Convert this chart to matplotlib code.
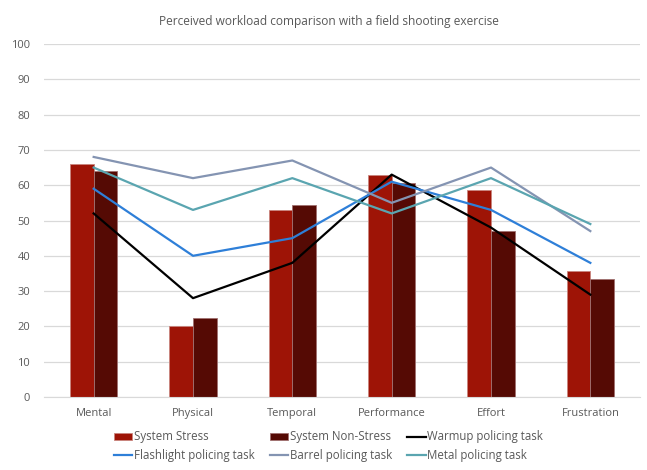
import numpy as np
import matplotlib.pyplot as plt

# Data
categories = ['Mental', 'Physical', 'Temporal', 'Performance', 'Effort', 'Frustration']
stress = [66, 20, 53, 63, 58.7, 35.6]
non_stress = [64, 22.5, 54.4, 60.5, 47, 33.4]
warmup = [52, 28, 38, 63, 48, 29]
flashlight = [59, 40, 45, 61, 53, 38]
barrel = [68, 62, 67, 55, 65, 47]
metal = [65, 53, 62, 52, 62, 49]

plt.rcParams['font.family'] = ['Open Sans', 'DejaVu Sans']
text_col = '#595959'

fig = plt.figure(figsize=(6.47, 4.70), dpi=100)
ax = fig.add_axes([44/647, 1-397/470, 596/647, (397-44)/470])

x = np.arange(len(categories))
w = 0.237
b1 = ax.bar(x - w/2, stress, w, color='#9E1406', edgecolor='#C9857E', linewidth=0.6, label='System Stress', zorder=2)
b2 = ax.bar(x + w/2, non_stress, w, color='#550A04', edgecolor='#A07070', linewidth=0.6, label='System Non-Stress', zorder=2)
l1, = ax.plot(x, warmup, color='black', lw=1.6, label='Warmup policing task', zorder=3)
l2, = ax.plot(x, flashlight, color='#2E7FD8', lw=1.6, label='Flashlight policing task', zorder=3)
l3, = ax.plot(x, barrel, color='#8494B2', lw=1.6, label='Barrel policing task', zorder=3)
l4, = ax.plot(x, metal, color='#5AA5B0', lw=1.6, label='Metal policing task', zorder=3)

ax.set_xlim(-0.5, len(categories) - 0.5)
ax.set_ylim(0, 100)
ax.set_yticks(range(0, 101, 10))
ax.set_xticks(x)
ax.set_xticklabels(categories)
ax.tick_params(length=0, colors=text_col, labelsize=8)
ax.tick_params(axis='x', pad=8)
ax.tick_params(axis='y', pad=10)
ax.grid(axis='y', color='#D9D9D9', lw=0.9, zorder=0)
for s in ['top', 'right', 'left']:
    ax.spines[s].set_visible(False)
ax.spines['bottom'].set_color('#D9D9D9')

fig.text(0.508, 1-22/470, 'Perceived workload comparison with a field shooting exercise',
         ha='center', va='center', fontsize=8.6, color=text_col)

handles = [b1, l2, b2, l3, l1, l4]
fig.legend(handles=handles, labels=[h.get_label() for h in handles], ncol=3,
           loc='center', bbox_to_anchor=(0.508, 1-446/470), frameon=False,
           fontsize=8.3, labelcolor=text_col, handlelength=1.6, handleheight=0.6,
           handletextpad=0.15, columnspacing=1.3, labelspacing=0.45)

fig.savefig('out.png', dpi=100)
